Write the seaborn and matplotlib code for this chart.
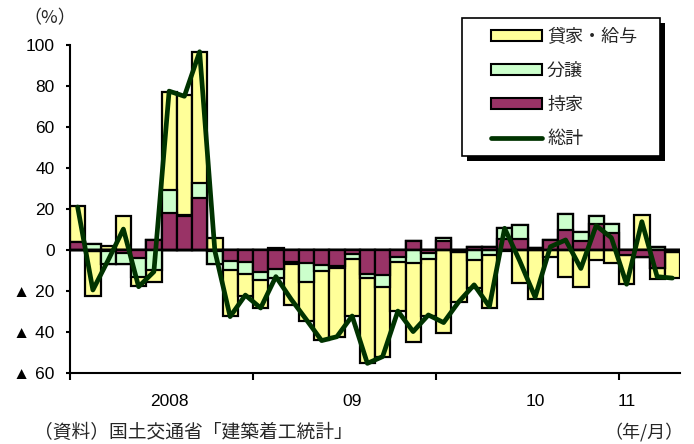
import numpy as np
import pandas as pd
import matplotlib
matplotlib.use("Agg")
import matplotlib.pyplot as plt
from matplotlib.patches import Patch, Rectangle
from matplotlib.lines import Line2D
import seaborn as sns

# Monthly housing starts, year-on-year change (%), Jan 2008 - Apr 2011
months = [f"{y}/{m:02d}" for y in (2008, 2009, 2010, 2011) for m in range(1, 13)][:40]

# contribution of each housing type (percentage points)
owner = [4.0, -0.5, -0.5, -1.6, -4.0, 4.9, 18.2, 16.6, 25.2, -0.3,
         -5.4, -5.7, -10.6, -9.3, -5.7, -6.5, -7.2, -8.0, -2.1, -11.5,
         -12.0, -3.2, 4.6, -1.6, 4.5, -1.0, 1.3, 1.6, 5.2, 5.5,
         1.0, 4.9, 9.8, 4.4, 12.5, 8.1, -2.4, -3.4, -9.0, -1.0]
condo = [0.0, 2.9, -6.5, -5.0, -9.0, -9.8, 11.1, 0.3, 7.3, -6.3,
         -4.4, -6.2, -4.0, -4.3, -1.1, -8.9, -2.8, -1.0, -2.5, -2.0,
         -6.0, -2.8, -6.2, -3.0, 1.2, 0.0, -4.9, -2.4, 5.4, 6.5,
         0.0, 0.0, 7.6, 4.2, 4.2, 4.4, 0.0, 0.0, 1.3, 0.0]
rental = [17.6, -22.0, 1.8, 16.7, -4.5, -5.6, 47.9, 58.7, 64.2, 6.0,
          -22.2, -10.4, -13.5, 1.1, -20.0, -19.1, -34.0, -33.5, -27.4, -41.6,
          -34.0, -23.8, -38.5, -27.6, -40.4, -24.5, -13.8, -26.1, -0.3, -15.9,
          -24.0, -3.3, -13.0, -17.9, -4.9, -6.5, -14.0, 17.2, -5.3, -12.7]
# overall change
total = [21.0, -19.5, -5.0, 10.2, -17.9, -10.6, 77.5, 75.0, 96.7, -0.5,
         -32.5, -22.0, -28.3, -13.0, -24.0, -34.0, -44.2, -42.3, -32.2, -55.3,
         -52.0, -29.8, -39.8, -31.7, -35.4, -25.2, -17.0, -27.6, 10.6, -5.5,
         -23.0, 1.6, 4.9, -9.0, 11.9, 6.0, -16.7, 13.8, -13.0, -13.7]

series_names = ["貸家・給与", "分譲", "持家", "総計"]
year_labels = ["2008", "09", "10", "11"]
year_label_pos = [6, 18, 30, 36]
year_breaks = [-0.5, 11.5, 23.5, 35.5]
ytick_vals = [-60, -40, -20, 0, 20, 40, 60, 80, 100]
ytick_text = ["▲ 60", "▲ 40", "▲ 20", "0", "20", "40", "60", "80", "100"]

YELLOW = "#FFFF99"
GREEN = "#CCFFCC"
PURPLE = "#993366"
DARKGREEN = "#003300"

sns.set_theme(style="white")
plt.rcParams["font.family"] = ["Liberation Sans", "Noto Sans CJK JP", "DejaVu Sans"]
JP = ["Noto Sans CJK JP", "DejaVu Sans"]

df = pd.DataFrame({"month": months, "owner": owner, "condo": condo, "rental": rental})

W, H = 694, 444
fig = plt.figure(figsize=(W / 100, H / 100), dpi=100)
ax = fig.add_axes([70 / W, 1 - 373 / H, 610 / W, 328 / H])
ax.patch.set_visible(False)

# stacked bars: owner next to zero, then condo, then rental, separately on each side of zero
bar_kw = dict(order=months, width=1.0, edgecolor="black", linewidth=1.6,
              saturation=1, errorbar=None, ax=ax)
for part in (df[["owner", "condo", "rental"]].clip(lower=0),
             df[["owner", "condo", "rental"]].clip(upper=0)):
    layers = [
        (part["owner"] + part["condo"] + part["rental"], YELLOW),
        (part["owner"] + part["condo"], GREEN),
        (part["owner"], PURPLE),
    ]
    for heights, colour in layers:
        sns.barplot(x=df["month"], y=heights, color=colour, **bar_kw)

ax.axhline(0, color="black", lw=1.5, zorder=1.5)

sns.lineplot(x=np.arange(len(months)), y=total, color=DARKGREEN, linewidth=3.4,
             ax=ax, zorder=3)

ax.set_xlim(-0.5, len(months) - 0.5)
ax.set_ylim(-60, 100)
ax.set_xlabel("")
ax.set_ylabel("")

for side in ("top", "right"):
    ax.spines[side].set_visible(False)
for side in ("left", "bottom"):
    ax.spines[side].set_color("black")
    ax.spines[side].set_linewidth(1.5)

ax.set_yticks(ytick_vals, ytick_text)
ax.tick_params(axis="y", direction="out", length=3, width=1.5, pad=8,
               labelsize=12.5, colors="black", left=True)
ax.set_xticks(year_label_pos, year_labels)
ax.set_xticks(year_breaks, minor=True)
ax.tick_params(axis="x", which="major", length=0, pad=15, labelsize=12.5,
               colors="black")
ax.tick_params(axis="x", which="minor", direction="out", length=5, width=1.5,
               color="black", bottom=True)

# legend frame with solid drop shadow
fx = lambda px: px / W
fy = lambda py: 1 - py / H
ax.add_patch(Rectangle((fx(467), fy(161)), 198 / W, 138 / H, transform=fig.transFigure,
                       facecolor="black", edgecolor="none", clip_on=False, zorder=4))
ax.add_patch(Rectangle((fx(462), fy(156)), 198 / W, 138 / H, transform=fig.transFigure,
                       facecolor="white", edgecolor="black", lw=1.2, clip_on=False,
                       zorder=4.1))
handles = [
    Patch(facecolor=YELLOW, edgecolor="black", lw=1.5),
    Patch(facecolor=GREEN, edgecolor="black", lw=1.5),
    Patch(facecolor=PURPLE, edgecolor="black", lw=1.5),
    Line2D([], [], color=DARKGREEN, lw=3.4),
]
ax.legend(handles, series_names, loc="upper left",
          bbox_to_anchor=(fx(482), fy(19)), bbox_transform=fig.transFigure,
          frameon=False, borderpad=0, prop={"family": JP, "size": 13},
          handlelength=2.8, handleheight=0.6, handletextpad=0.3,
          labelspacing=0.88)

fig.text(fx(50), fy(18), "（%）", family=JP, fontsize=13, ha="center", va="center")
fig.text(fx(34), fy(432), "（資料）国土交通省「建築着工統計」", family=JP, fontsize=13.5,
         ha="left", va="center")
fig.text(fx(684), fy(432), "（年/月）", family=JP, fontsize=13, ha="right", va="center")

fig.savefig("out.png", dpi=100)
